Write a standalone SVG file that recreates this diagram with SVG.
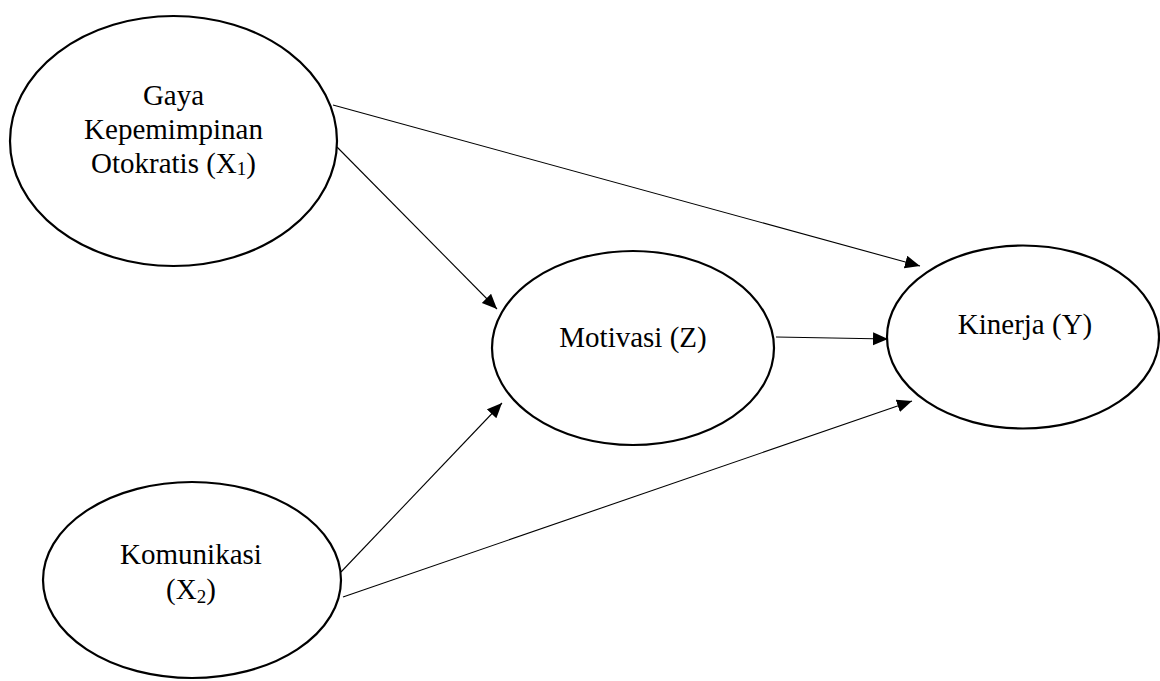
<svg xmlns="http://www.w3.org/2000/svg" width="1160" height="681" viewBox="0 0 1160 681">
  <style>
    .node { fill: #ffffff; stroke: #000000; stroke-width: 2.2; }
    .label { font-family: "Liberation Serif", "Times New Roman", serif; font-size: 29px; fill: #000000; text-anchor: middle; }
    .sub { font-size: 19px; }
    .edge { stroke: #000000; stroke-width: 1.1; fill: none; marker-end: url(#arrow); }
  </style>
  <defs>
    <marker id="arrow" markerUnits="userSpaceOnUse" markerWidth="16" markerHeight="14" refX="15" refY="6.5" orient="auto">
      <path d="M0,0 L15,6.5 L0,13 z" fill="#000000"/>
    </marker>
  </defs>
  <rect width="1160" height="681" fill="#ffffff"/>

  <!-- paths between the constructs -->
  <g id="connectors">
    <line class="edge" x1="333" y1="105" x2="920" y2="266"/>
    <line class="edge" x1="337" y1="147" x2="497" y2="309"/>
    <line class="edge" x1="776" y1="337" x2="888" y2="339"/>
    <line class="edge" x1="341" y1="572" x2="502" y2="403"/>
    <line class="edge" x1="343" y1="597" x2="912" y2="401"/>
  </g>

  <g id="gaya-kepemimpinan">
    <ellipse class="node" cx="173.5" cy="141" rx="163.5" ry="125"/>
    <text class="label" x="173.5" y="105">Gaya</text>
    <text class="label" x="173.5" y="139">Kepemimpinan</text>
    <text class="label" x="173.5" y="173">Otokratis (X<tspan class="sub" dy="2">1</tspan><tspan dy="-2">)</tspan></text>
  </g>

  <g id="motivasi">
    <ellipse class="node" cx="633" cy="348" rx="141" ry="97"/>
    <text class="label" x="633" y="347">Motivasi (Z)</text>
  </g>

  <g id="kinerja">
    <ellipse class="node" cx="1023" cy="337" rx="136" ry="91.5"/>
    <text class="label" x="1025" y="334">Kinerja (Y)</text>
  </g>

  <g id="komunikasi">
    <ellipse class="node" cx="192" cy="580" rx="149" ry="98"/>
    <text class="label" x="191" y="564">Komunikasi</text>
    <text class="label" x="191" y="599">(X<tspan class="sub" dy="4">2</tspan><tspan dy="-4">)</tspan></text>
  </g>
</svg>
